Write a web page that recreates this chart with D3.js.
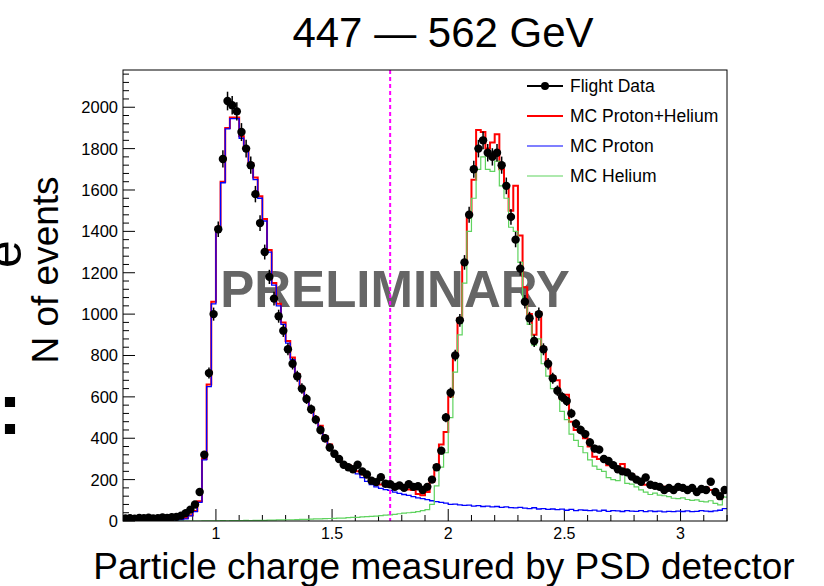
<!DOCTYPE html>
<html>
<head>
<meta charset="utf-8">
<script src="https://cdn.jsdelivr.net/npm/d3@7"></script>
<style>
  body { margin: 0; background: #fff; }
  svg { display: block; font-family: 'Liberation Sans', Arial, sans-serif; }
</style>
</head>
<body>
<svg width="824" height="586"></svg>
<script>
// histogram binning: 130 bins of 0.02 from 0.6 to 3.2
var binStart = 0.6;
var binWidth = 0.02;

var flightData = [
  12, 14, 11, 15, 13, 16, 12, 14, 17, 15,
  18, 20, 26, 38, 55, 80, 140, 320, 715, 1000,
  1410, 1750, 2030, 2010, 1980, 1880, 1800, 1720, 1580, 1440,
  1300, 1180, 1075, 990, 920, 830, 760, 700, 640, 590,
  540, 490, 440, 400, 355, 325, 300, 272, 260, 250,
  272, 240, 225, 195, 188, 212, 180, 178, 165, 172,
  160, 178, 165, 168, 150, 165, 200, 260, 340, 500,
  620, 800, 970, 1250, 1480, 1700, 1800, 1840, 1780, 1760,
  1780, 1720, 1620, 1470, 1360, 1220, 1060, 980, 870, 1000,
  830, 760, 690, 630, 600, 580, 520, 470, 440, 420,
  380, 350, 345, 300, 290, 270, 250, 240, 235, 215,
  200, 190, 210, 175, 170, 165, 150, 160, 150, 165,
  160, 150, 160, 140, 155, 150, 190, 140, 120, 150
];

var mcProtonHelium = [
  4, 5, 4, 6, 5, 5, 6, 5, 6, 7,
  7, 8, 10, 15, 28, 48, 95, 300, 660, 1060,
  1420, 1640, 1900, 1950, 1950, 1860, 1800, 1730, 1660, 1570,
  1460, 1310, 1150, 1050, 960, 870, 790, 710, 640, 590,
  540, 500, 460, 410, 370, 330, 300, 280, 270, 258,
  240, 225, 212, 198, 180, 176, 170, 166, 168, 160,
  165, 152, 150, 130, 125, 140, 190, 270, 370, 430,
  600, 800, 980, 1250, 1480, 1650, 1890, 1880, 1800, 1830,
  1870, 1700, 1620, 1500, 1620, 1380, 1130, 1000, 900, 1010,
  840, 760, 700, 680, 590, 610, 480, 440, 430, 400,
  360, 310, 300, 295, 270, 262, 255, 275, 230, 225,
  200, 195, 175, 168, 172, 165, 165, 155, 150, 158,
  160, 150, 152, 148, 158, 162, 150, 140, 110, 145
];

var mcProton = [
  1, 1, 1, 1, 1, 1, 1, 1, 1, 1,
  2, 3, 5, 10, 25, 45, 90, 295, 650, 1050,
  1415, 1635, 1895, 1945, 1945, 1850, 1790, 1720, 1650, 1560,
  1450, 1300, 1140, 1040, 950, 860, 780, 700, 630, 580,
  530, 490, 450, 400, 360, 320, 290, 272, 262, 250,
  228, 210, 192, 176, 165, 158, 152, 148, 140, 134,
  128, 124, 118, 112, 108, 103, 98, 94, 90, 86,
  80, 82, 78, 76, 77, 72, 74, 70, 72, 68,
  70, 66, 68, 65, 63, 66, 62, 60, 64, 58,
  60, 56, 58, 55, 57, 52, 56, 50, 54, 52,
  50, 53, 48, 52, 47, 50, 49, 46, 50, 48,
  47, 50, 45, 49, 46, 48, 44, 47, 45, 48,
  46, 49, 45, 47, 50, 48, 46, 49, 52, 60
];

var mcHelium = [
  0, 0, 0, 0, 0, 0, 0, 0, 0, 0,
  0, 0, 0, 0, 0, 0, 0, 1, 1, 1,
  1, 2, 1, 2, 2, 2, 3, 2, 3, 3,
  3, 4, 4, 5, 5, 6, 6, 7, 8, 8,
  9, 10, 10, 11, 12, 13, 14, 14, 16, 18,
  18, 20, 21, 22, 24, 26, 28, 30, 32, 35,
  38, 40, 42, 45, 50, 55, 80, 170, 260, 330,
  500, 720, 900, 1150, 1400, 1560, 1700, 1760, 1700, 1690,
  1740, 1620, 1560, 1420, 1400, 1250, 1050, 950, 850, 880,
  760, 700, 640, 620, 530, 490, 420, 390, 360, 330,
  295, 265, 250, 240, 210, 200, 195, 240, 182, 178,
  165, 150, 140, 128, 135, 125, 122, 118, 110, 108,
  112, 104, 100, 102, 95, 92, 98, 85, 78, 115
];

var xTickValues = [1, 1.5, 2, 2.5, 3];
var yTickValues = [0, 200, 400, 600, 800, 1000, 1200, 1400, 1600, 1800, 2000];
var cutValue = 1.75;

var legendLabels = ['Flight Data', 'MC Proton+Helium', 'MC Proton', 'MC Helium'];
var legendColors = ['#000', '#ff0000', '#0000ff', '#5fd35f'];

var svg = d3.select('svg');

var margin = { left: 123, right: 727, top: 70, bottom: 521 };

var x = d3.scaleLinear().domain([0.6, 3.2]).range([margin.left, margin.right]);
var y = d3.scaleLinear().domain([0, 2180]).range([margin.bottom, margin.top]);

svg.append('clipPath')
  .attr('id', 'plotclip')
  .append('rect')
  .attr('x', margin.left)
  .attr('y', margin.top)
  .attr('width', margin.right - margin.left)
  .attr('height', margin.bottom - margin.top);

// slide text fragments along the left edge
svg.append('text')
  .attr('transform', 'translate(21,254) rotate(-90)')
  .attr('text-anchor', 'middle')
  .attr('font-size', 50)
  .attr('fill', '#000')
  .text('e');
svg.append('text')
  .attr('x', -2)
  .attr('y', 434)
  .attr('font-size', 72)
  .attr('font-weight', 'bold')
  .attr('fill', '#000')
  .text(':');

// title
svg.append('text')
  .attr('x', 443)
  .attr('y', 47)
  .attr('text-anchor', 'middle')
  .attr('font-size', 42)
  .attr('fill', '#000')
  .text('447 \u2014 562 GeV');

// ticks (ROOT style, drawn inside the frame)
var xMinor = d3.range(7, 33).map(function (d) { return d / 10; });
var yMinor = d3.range(0, 2161, 40);

var tickG = svg.append('g');
tickG.selectAll('.xminor')
  .data(xMinor)
  .enter()
  .append('line')
  .attr('x1', function (d) { return x(d); })
  .attr('x2', function (d) { return x(d); })
  .attr('y1', margin.bottom)
  .attr('y2', function (d) {
    return xTickValues.indexOf(d) >= 0 ? margin.bottom - 12 : margin.bottom - 6;
  })
  .attr('stroke', '#000')
  .attr('stroke-width', 1);

tickG.selectAll('.yminor')
  .data(yMinor)
  .enter()
  .append('line')
  .attr('y1', function (d) { return y(d); })
  .attr('y2', function (d) { return y(d); })
  .attr('x1', margin.left)
  .attr('x2', function (d) {
    return d % 200 === 0 ? margin.left + 12 : margin.left + 6;
  })
  .attr('stroke', '#000')
  .attr('stroke-width', 1);

// tick labels
svg.append('g')
  .selectAll('text')
  .data(xTickValues)
  .enter()
  .append('text')
  .attr('x', function (d) { return x(d); })
  .attr('y', 539)
  .attr('text-anchor', 'middle')
  .attr('font-size', 16)
  .text(function (d) { return d; });

svg.append('g')
  .selectAll('text')
  .data(yTickValues)
  .enter()
  .append('text')
  .attr('x', margin.left - 5)
  .attr('y', function (d) { return y(d) + 6; })
  .attr('text-anchor', 'end')
  .attr('font-size', 16.5)
  .text(function (d) { return d; });

// axis titles
svg.append('text')
  .attr('x', 444)
  .attr('y', 579)
  .attr('text-anchor', 'middle')
  .attr('font-size', 37)
  .text('Particle charge measured by PSD detector');

svg.append('text')
  .attr('transform', 'translate(58,270) rotate(-90)')
  .attr('text-anchor', 'middle')
  .attr('font-size', 37)
  .text('N of events');

// PRELIMINARY watermark
svg.append('text')
  .attr('x', 395)
  .attr('y', 307)
  .attr('text-anchor', 'middle')
  .attr('font-size', 51)
  .attr('font-weight', 'bold')
  .attr('fill', '#666')
  .text('PRELIMINARY');

// histograms as steps
function histPoints(values) {
  var pts = values.map(function (v, i) {
    return [binStart + i * binWidth, v];
  });
  pts.push([binStart + values.length * binWidth, values[values.length - 1]]);
  return pts;
}

var stepLine = d3.line()
  .x(function (d) { return x(d[0]); })
  .y(function (d) { return y(d[1]); })
  .curve(d3.curveStepAfter);

var plot = svg.append('g').attr('clip-path', 'url(#plotclip)');

plot.append('path')
  .datum(histPoints(mcProtonHelium))
  .attr('d', stepLine)
  .attr('fill', 'none')
  .attr('stroke', legendColors[1])
  .attr('stroke-width', 2);

plot.append('path')
  .datum(histPoints(mcProton))
  .attr('d', stepLine)
  .attr('fill', 'none')
  .attr('stroke', legendColors[2])
  .attr('stroke-width', 1.3);

plot.append('path')
  .datum(histPoints(mcHelium))
  .attr('d', stepLine)
  .attr('fill', 'none')
  .attr('stroke', legendColors[3])
  .attr('stroke-width', 1.2);

// cut line
plot.append('line')
  .attr('x1', x(cutValue))
  .attr('x2', x(cutValue))
  .attr('y1', margin.top)
  .attr('y2', margin.bottom)
  .attr('stroke', '#ff00ff')
  .attr('stroke-width', 2)
  .attr('stroke-dasharray', '4,3');

// flight data with statistical error bars
var pts = plot.append('g')
  .selectAll('g')
  .data(flightData)
  .enter()
  .append('g');

pts.append('line')
  .attr('x1', function (d, i) { return x(binStart + (i + 0.5) * binWidth); })
  .attr('x2', function (d, i) { return x(binStart + (i + 0.5) * binWidth); })
  .attr('y1', function (d) { return y(d + Math.sqrt(d)); })
  .attr('y2', function (d) { return y(Math.max(0, d - Math.sqrt(d))); })
  .attr('stroke', '#000')
  .attr('stroke-width', 1.5);

pts.append('circle')
  .attr('cx', function (d, i) { return x(binStart + (i + 0.5) * binWidth); })
  .attr('cy', function (d) { return y(d); })
  .attr('r', 4.2)
  .attr('fill', '#000');

// frame
svg.append('rect')
  .attr('x', margin.left)
  .attr('y', margin.top)
  .attr('width', margin.right - margin.left)
  .attr('height', margin.bottom - margin.top)
  .attr('fill', 'none')
  .attr('stroke', '#000')
  .attr('stroke-width', 1);

// legend
var legend = svg.append('g').attr('transform', 'translate(527,86)');
var items = legend.selectAll('g')
  .data(legendLabels)
  .enter()
  .append('g')
  .attr('transform', function (d, i) { return 'translate(0,' + i * 30 + ')'; });

items.append('line')
  .attr('x1', 0)
  .attr('x2', 36)
  .attr('y1', 0)
  .attr('y2', 0)
  .attr('stroke', function (d, i) { return legendColors[i]; })
  .attr('stroke-width', function (d, i) { return [2, 2, 1.2, 1.2][i]; });

items.filter(function (d, i) { return i === 0; })
  .append('circle')
  .attr('cx', 18)
  .attr('cy', 0)
  .attr('r', 4)
  .attr('fill', '#000');

items.append('text')
  .attr('x', 43)
  .attr('y', 6)
  .attr('font-size', 17.5)
  .attr('fill', '#000')
  .text(function (d) { return d; });
</script>
</body>
</html>
